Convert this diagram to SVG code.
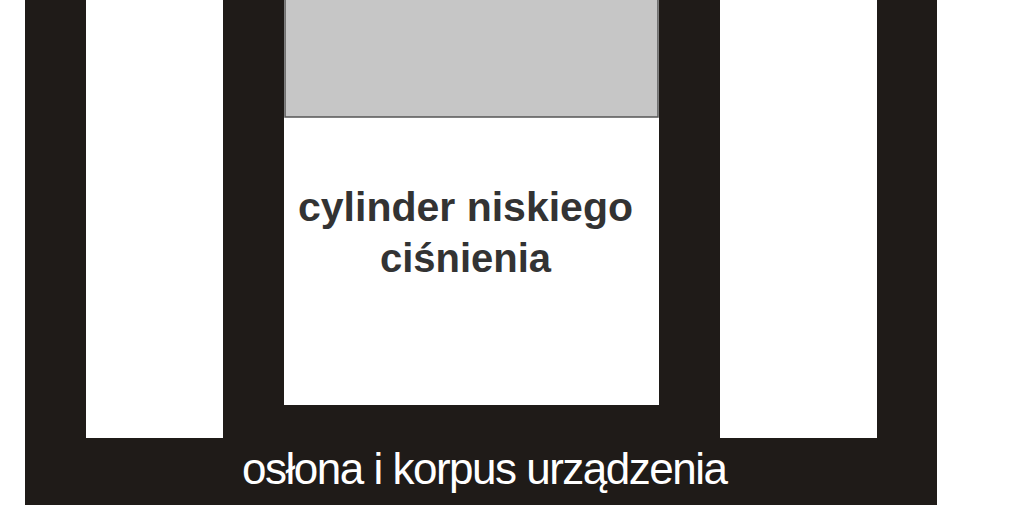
<svg xmlns="http://www.w3.org/2000/svg" width="1024" height="505" viewBox="0 0 1024 505">
<style>
.body{fill:#1f1b18}
.hole{fill:#ffffff}
.gray{fill:#c6c6c6;stroke:#555;stroke-width:1.5}
.lbl{font-family:"Liberation Sans",Arial,sans-serif;font-weight:bold;font-size:40px;fill:#333}
.lbl2{font-family:"Liberation Sans",Arial,sans-serif;font-size:44px;fill:#fff}
</style>
<rect width="1024" height="505" fill="#fff"/>
<g id="oslona">
<rect class="body" x="25" y="0" width="912" height="505"/>
<rect class="hole" x="86" y="0" width="137" height="438"/>
<rect class="hole" x="720" y="0" width="157" height="438"/>
<text class="lbl2" x="242" y="484" textLength="486" lengthAdjust="spacing">osłona i korpus urządzenia</text>
</g>
<g id="cylinder">
<rect class="hole" x="284" y="0" width="375" height="405"/>
<rect class="gray" x="285" y="-2" width="373" height="119"/>
<text class="lbl" x="298" y="221" textLength="335" lengthAdjust="spacingAndGlyphs">cylinder niskiego</text>
<text class="lbl" x="380" y="272" textLength="171" lengthAdjust="spacingAndGlyphs">ciśnienia</text>
</g>
<g id="connectors"/>
</svg>
